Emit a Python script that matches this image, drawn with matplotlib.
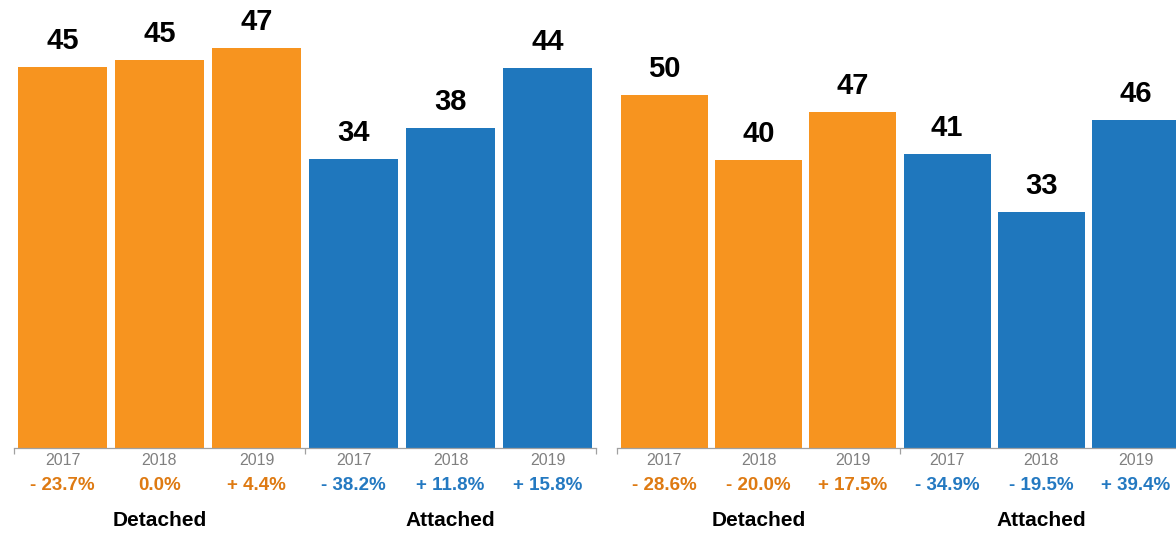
import matplotlib
matplotlib.use("Agg")
import matplotlib.pyplot as plt

plt.rcParams["font.family"] = ["Liberation Sans", "DejaVu Sans"]

# data
YEARS = ["2017", "2018", "2019", "2017", "2018", "2019"]
GROUPS = ["Detached", "Attached"]

LEFT_VALUES = [44.8, 45.6, 47.0, 33.9, 37.6, 44.6]
LEFT_LABELS = ["45", "45", "47", "34", "38", "44"]
LEFT_CHANGES = ["- 23.7%", "0.0%", "+ 4.4%", "- 38.2%", "+ 11.8%", "+ 15.8%"]

RIGHT_VALUES = [49.5, 40.3, 47.1, 41.1, 33.0, 45.9]
RIGHT_LABELS = ["50", "40", "47", "41", "33", "46"]
RIGHT_CHANGES = ["- 28.6%", "- 20.0%", "+ 17.5%", "- 34.9%", "- 19.5%", "+ 39.4%"]

ORANGE = "#F7941F"
BLUE = "#1F77BD"
ORANGE_TXT = "#DE7A12"
BLUE_TXT = "#2479C1"
GREY = "#A0A0A0"

W, H = 1176, 534
fig = plt.figure(figsize=(W / 100, H / 100), dpi=100)


def panel(left_px, width_px, ymax, values, labels, changes):
    base = 86.5
    ax = fig.add_axes([left_px / W, base / H, width_px / W, (H - base) / H])
    ax.set_facecolor("none")
    n = len(values)
    colors = [ORANGE] * 3 + [BLUE] * 3
    txt_colors = [ORANGE_TXT] * 3 + [BLUE_TXT] * 3
    x = list(range(n))
    ax.bar(x, values, width=0.92, color=colors)
    ax.set_xlim(-0.5, n - 0.5)
    ax.set_ylim(0, ymax)

    for xi, v, lab in zip(x, values, labels):
        ax.annotate(lab, (xi, v), xytext=(0, 13), textcoords="offset points",
                    ha="center", va="baseline", fontsize=21, fontweight="bold",
                    color="black")

    hpx = H - base
    trans = ax.get_xaxis_transform()
    for i in range(n):
        ax.text(i, -13 / hpx, YEARS[i], transform=trans, ha="center",
                va="center", fontsize=11.5, color="#808080")
        ax.text(i, -38.5 / hpx, changes[i], transform=trans, ha="center",
                va="center", fontsize=13.5, fontweight="bold", color=txt_colors[i])
    for g, name in enumerate(GROUPS):
        ax.text(3 * g + 1, -73 / hpx, name, transform=trans, ha="center",
                va="center", fontsize=15, fontweight="bold", color="black")

    for s in ["top", "right", "left"]:
        ax.spines[s].set_visible(False)
    ax.spines["bottom"].set_color(GREY)
    ax.spines["bottom"].set_linewidth(0.9)
    ax.set_yticks([])
    ax.set_xticks([-0.5, 2.5, n - 0.5])
    ax.set_xticklabels([])
    ax.tick_params(axis="x", length=4, width=0.9, color=GREY, direction="out")
    return ax


panel(14, 582, 447.5 / 8.5, LEFT_VALUES, LEFT_LABELS, LEFT_CHANGES)
panel(617, 566, 447.5 / 7.13, RIGHT_VALUES, RIGHT_LABELS, RIGHT_CHANGES)

fig.savefig("out.png", dpi=100)
